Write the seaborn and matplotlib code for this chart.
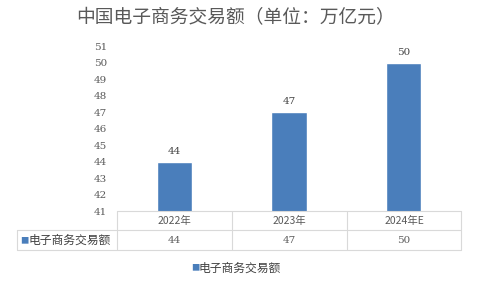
import matplotlib
matplotlib.use("Agg")
import matplotlib.pyplot as plt
import seaborn as sns
import pandas as pd
from matplotlib.lines import Line2D

categories = ["2022年", "2023年", "2024年E"]
values = [44, 47, 50]
series_name = "电子商务交易额"
title = "中国电子商务交易额（单位：万亿元）"
yticks = list(range(41, 52))

sns.set_theme(style="white")
plt.rcParams['font.family'] = ['Noto Sans CJK SC', 'DejaVu Sans']

W, H = 480, 281
fig = plt.figure(figsize=(W / 100, H / 100), dpi=100)
ax = fig.add_axes([117 / W, 1 - 211 / H, (461 - 117) / W, (211 - 46) / H])

df = pd.DataFrame({"cat": categories, "val": values})
sns.barplot(data=df, x="cat", y="val", ax=ax, color="#4a7ebb", width=0.31, saturation=1)
ax.set_ylim(41, 51)
ax.set_xlim(-0.5, 2.5)
ax.set_yticks(yticks)
ax.set_yticklabels([str(t) for t in yticks], fontsize=7.5, color="#595959", family="DejaVu Serif")
ax.tick_params(axis="y", length=0, pad=7)
ax.set_xticks([])
ax.set_xlabel("")
ax.set_ylabel("")
for s in ax.spines.values():
    s.set_visible(False)

for i, v in enumerate(values):
    ax.text(i, v + 0.35, str(v), ha="center", va="bottom", fontsize=7.5, color="#404040", family="DejaVu Serif")

fig.text(236 / W, 1 - 18 / H, title, ha="center", va="center", fontsize=13.5, color="#595959")

def fx(x):
    return x / W

def fy(y):
    return 1 - y / H

lc = "#d9d9d9"
def hline(x0, x1, y):
    fig.add_artist(Line2D([fx(x0), fx(x1)], [fy(y), fy(y)], color=lc, lw=0.8))

def vline(x, y0, y1):
    fig.add_artist(Line2D([fx(x), fx(x)], [fy(y0), fy(y1)], color=lc, lw=0.8))

hline(117, 461, 211)
hline(17, 461, 230)
hline(17, 461, 250)
for x in [117, 232, 347, 461]:
    vline(x, 211, 250)
vline(17, 230, 250)

col_centers = [174.5, 289.5, 404]
for c, cat, v in zip(col_centers, categories, values):
    fig.text(fx(c), fy(221), cat, ha="center", va="center", fontsize=7.5, color="#595959")
    fig.text(fx(c), fy(240.5), str(v), ha="center", va="center", fontsize=7.5, color="#595959", family="DejaVu Serif")

fig.text(fx(20), fy(240.5), "■", ha="left", va="center", fontsize=6, color="#4a7ebb")
fig.text(fx(29), fy(240.5), series_name, ha="left", va="center", fontsize=8.5, color="#404040")

fig.text(fx(191), fy(268), "■", ha="left", va="center", fontsize=6, color="#4a7ebb")
fig.text(fx(199), fy(268), series_name, ha="left", va="center", fontsize=8.5, color="#404040")

fig.savefig("out.png", dpi=100, facecolor="white")
